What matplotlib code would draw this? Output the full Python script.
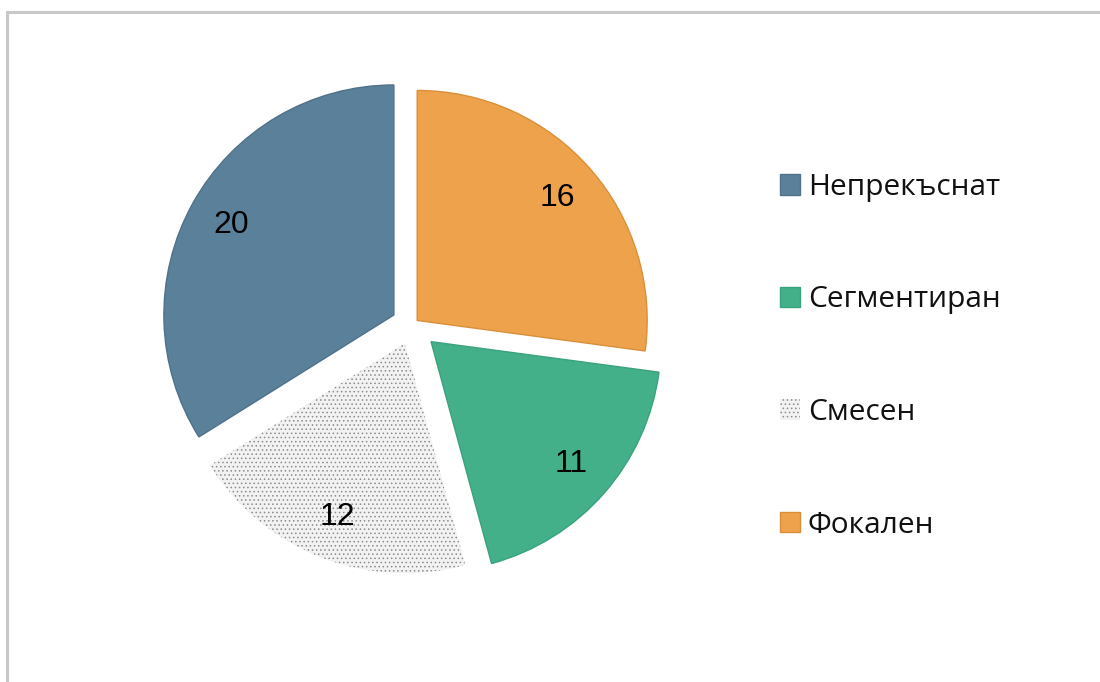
import matplotlib
matplotlib.use("Agg")
import matplotlib.pyplot as plt
from matplotlib.lines import Line2D
import numpy as np

# Data (pie order: clockwise from 12 o'clock)
categories = ["Фокален", "Сегментиран", "Смесен", "Непрекъснат"]
values = [16, 11, 12, 20]
legend_order = ["Непрекъснат", "Сегментиран", "Смесен", "Фокален"]

colors = {"Фокален": "#eda24b", "Сегментиран": "#43b08a",
          "Смесен": "#f2f2f2", "Непрекъснат": "#5b8099"}
edges = {"Фокален": "#d98f3a", "Сегментиран": "#3aa27d",
         "Смесен": "#8c8c8c", "Непрекъснат": "#4f7189"}
explode = {"Фокален": 0.03, "Сегментиран": 0.11, "Смесен": 0.085, "Непрекъснат": 0.09}

W, H = 1100, 682
R = 230
fig = plt.figure(figsize=(W / 100, H / 100), dpi=100)
ax = fig.add_axes([0, 0, 1, 1])

plt.rcParams["hatch.linewidth"] = 0.6

total = sum(values)
wedges, texts, autotexts = ax.pie(
    values,
    colors=[colors[c] for c in categories],
    explode=[explode[c] * R for c in categories],
    startangle=90, counterclock=False,
    center=(412, H - 325), radius=R,
    autopct=lambda p: f"{int(round(p * total / 100))}",
    pctdistance=0.81,
    textprops=dict(fontsize=23, family="Liberation Sans", color="black"),
    frame=True,
)
for w, c in zip(wedges, categories):
    w.set_edgecolor(edges[c])
    w.set_linewidth(1.0)
    if c == "Смесен":
        w.set_hatch("....")
        w.set_linewidth(0)
ax.set_xlim(0, W)
ax.set_ylim(0, H)
ax.set_aspect("equal")
ax.axis("off")

handles = {c: w for c, w in zip(categories, wedges)}
leg = ax.legend([handles[c] for c in legend_order], legend_order,
                loc="upper left", bbox_to_anchor=(753 / W, 1 - 146 / H),
                bbox_transform=fig.transFigure,
                frameon=False, handlelength=0.68, handleheight=0.68,
                handletextpad=0.25, labelspacing=2.8,
                prop=dict(family="Open Sans", size=21.5))
for t in leg.get_texts():
    t.set_color("#111111")

# Outer frame lines (top and left)
fig.add_artist(Line2D([7 / W, 1], [1 - 12 / H, 1 - 12 / H], transform=fig.transFigure,
                      color="#c8c8c8", linewidth=2.2))
fig.add_artist(Line2D([7 / W, 7 / W], [0, 1 - 12 / H], transform=fig.transFigure,
                      color="#c8c8c8", linewidth=2.2))

fig.savefig("out.png", dpi=100, facecolor="white")
